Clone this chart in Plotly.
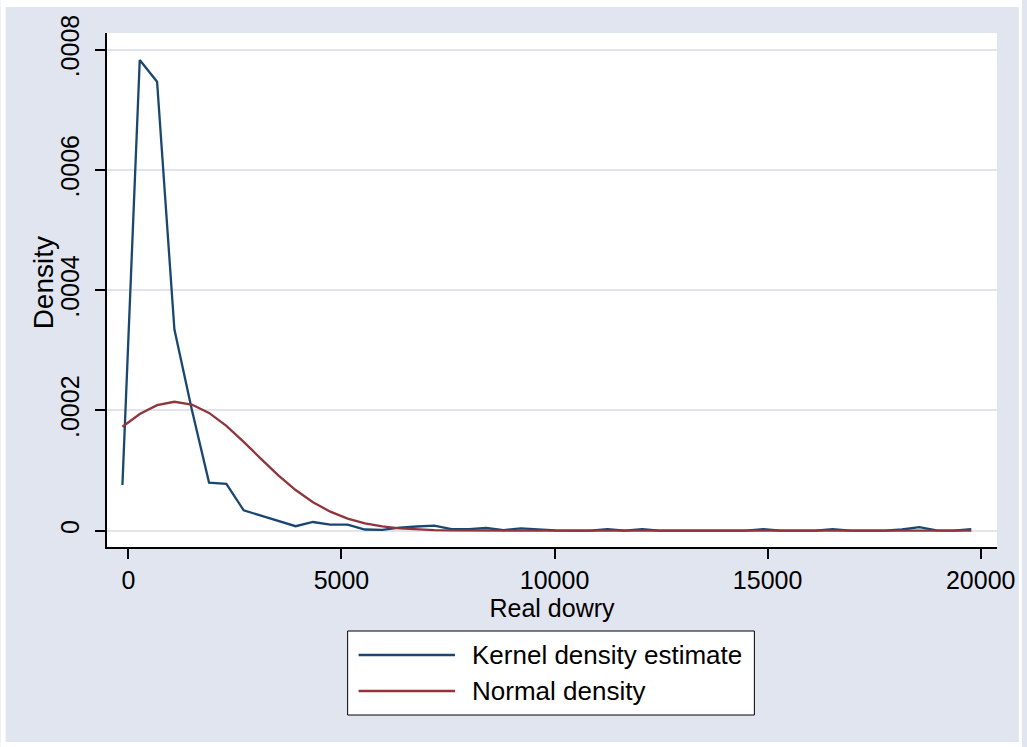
import plotly.graph_objects as go

# ---- data ----
x_grid = [-140, 266.5, 673, 1079.5, 1486, 1892.5, 2299, 2705.5, 3112, 3518.5,
          3925, 4331.5, 4738, 5144.5, 5551, 5957.5, 6364, 6770.5, 7177, 7583.5,
          7990, 8396.5, 8803, 9209.5, 9616, 10022.5, 10429, 10835.5, 11242, 11648.5,
          12055, 12461.5, 12868, 13274.5, 13681, 14087.5, 14494, 14900.5, 15307, 15713.5,
          16120, 16526.5, 16933, 17339.5, 17746, 18152.5, 18559, 18965.5, 19372, 19778.5]

kernel_density = [7.6e-5, 7.83e-4, 7.47e-4, 3.35e-4, 2.02e-4, 8.0e-5, 7.8e-5, 3.4e-5, 2.5e-5, 1.6e-5,
                  7.5e-6, 1.45e-5, 1.0e-5, 1.0e-5, 2.0e-6, 1.5e-6, 5.0e-6, 7.0e-6, 8.5e-6, 2.5e-6,
                  2.5e-6, 4.5e-6, 1.0e-6, 4.0e-6, 2.5e-6, 5e-7, 3e-7, 3e-7, 2.5e-6, 3e-7,
                  2.5e-6, 3e-7, 3e-7, 3e-7, 3e-7, 3e-7, 3e-7, 2.5e-6, 3e-7, 3e-7,
                  3e-7, 2.5e-6, 3e-7, 3e-7, 3e-7, 2.0e-6, 6.0e-6, 5e-7, 3e-7, 2.5e-6]

normal_density = [1.73e-4, 1.94e-4, 2.089e-4, 2.145e-4, 2.099e-4, 1.959e-4, 1.743e-4, 1.478e-4, 1.195e-4, 9.21e-5,
                  6.77e-5, 4.74e-5, 3.17e-5, 2.02e-5, 1.22e-5, 7.1e-6, 3.9e-6, 2.1e-6, 1.0e-6, 5e-7,
                  2e-7, 1e-7, 0.0, 0.0, 0.0, 0.0, 0.0, 0.0, 0.0, 0.0,
                  0.0, 0.0, 0.0, 0.0, 0.0, 0.0, 0.0, 0.0, 0.0, 0.0,
                  0.0, 0.0, 0.0, 0.0, 0.0, 0.0, 0.0, 0.0, 0.0, 0.0]

series_names = ["Kernel density estimate", "Normal density"]
x_ticks = [0, 5000, 10000, 15000, 20000]
x_tick_labels = ["0", "5000", "10000", "15000", "20000"]
y_ticks = [0, 0.0002, 0.0004, 0.0006, 0.0008]
y_tick_labels = ["0", ".0002", ".0004", ".0006", ".0008"]
x_title = "Real dowry"
y_title = "Density"

# ---- style ----
NAVY = "#1A476F"
MAROON = "#90353B"
BG = "#E0E5EF"
GRID = "#DFE4EE"
FONT = "Liberation Sans, Arial, sans-serif"

W, H = 1027, 747
L, R, T, B = 107, 1002, 33, 547


def px_x(p):
    return (p - L) / (R - L)


def px_y(p):
    return (B - p) / (B - T)


fig = go.Figure()
fig.add_trace(go.Scatter(x=x_grid, y=kernel_density, mode="lines", name=series_names[0],
                         line=dict(color=NAVY, width=2.3), showlegend=False))
fig.add_trace(go.Scatter(x=x_grid, y=normal_density, mode="lines", name=series_names[1],
                         line=dict(color=MAROON, width=2.3), showlegend=False))

fig.update_layout(
    width=W, height=H,
    margin=dict(l=L, r=W - R, t=T, b=H - B, pad=0),
    paper_bgcolor=BG, plot_bgcolor="white",
    font=dict(family=FONT, size=25, color="black"),
    showlegend=False,
)

fig.update_xaxes(
    range=[-502, 20383], tickmode="array", tickvals=x_ticks, ticktext=x_tick_labels,
    ticks="outside", ticklen=10, tickwidth=1.5, tickcolor="black",
    showline=True, linecolor="black", linewidth=1.5, mirror=False,
    showgrid=False, zeroline=False,
    tickfont=dict(size=25),
    title=dict(text=x_title, font=dict(size=25), standoff=0),
)
fig.update_yaxes(
    range=[-0.0000271, 0.000828], tickmode="array", tickvals=y_ticks, ticktext=y_tick_labels,
    tickangle=-90, ticks="outside", ticklen=10, tickwidth=1.5, tickcolor="black",
    ticklabelstandoff=6,
    showline=True, linecolor="black", linewidth=1.5, mirror=False,
    showgrid=True, gridcolor=GRID, gridwidth=2, zeroline=False,
    tickfont=dict(size=25),
)

shapes = []
# thin white outer border
for (x0, y0, x1, y1) in [(0, 0, 5, 747), (0, 0, 1027, 7), (1024, 0, 1027, 747), (0, 742, 1027, 747)]:
    shapes.append(dict(type="rect", xref="paper", yref="paper",
                       x0=px_x(x0), x1=px_x(x1), y0=px_y(y1), y1=px_y(y0),
                       fillcolor="white", line=dict(width=0), layer="above"))

annotations = []
# y axis title
annotations.append(dict(xref="paper", yref="paper", x=px_x(43), y=px_y(283),
                        text=y_title, showarrow=False, textangle=-90,
                        xanchor="center", yanchor="middle",
                        font=dict(size=28, color="black", family=FONT)))

# legend box
lb_x0, lb_x1, lb_y0, lb_y1 = 349, 758, 631, 715
shapes.append(dict(type="rect", xref="paper", yref="paper",
                   x0=px_x(lb_x0), x1=px_x(lb_x1), y0=px_y(lb_y1), y1=px_y(lb_y0),
                   fillcolor="white", line=dict(color="black", width=1)))
rows = [655, 691]
colors = [NAVY, MAROON]
for name, col, ry in zip(series_names, colors, rows):
    shapes.append(dict(type="line", xref="paper", yref="paper",
                       x0=px_x(360), x1=px_x(457), y0=px_y(ry), y1=px_y(ry),
                       line=dict(color=col, width=2.3)))
    annotations.append(dict(xref="paper", yref="paper", x=px_x(472), y=px_y(ry),
                            text=name, showarrow=False, xanchor="left", yanchor="middle",
                            font=dict(size=26, color="black", family=FONT)))

fig.update_layout(shapes=shapes, annotations=annotations)

fig.write_html("out.html", config={"displayModeBar": False},
               post_script="document.body.style.margin='0';document.body.style.overflow='hidden';")
